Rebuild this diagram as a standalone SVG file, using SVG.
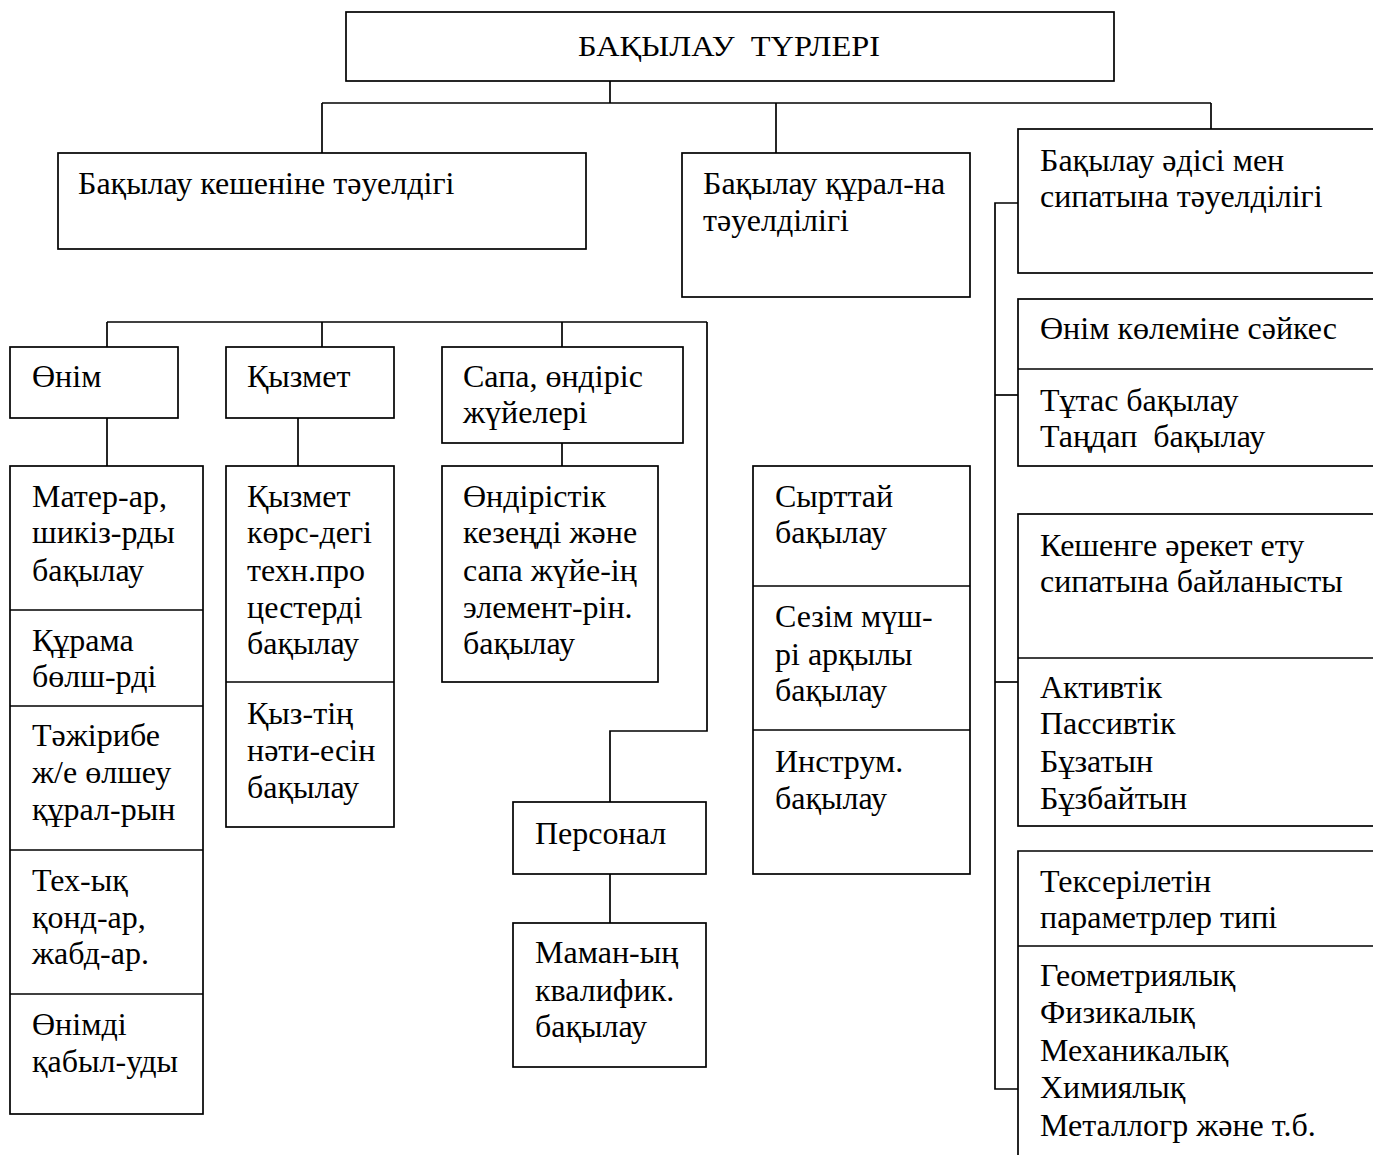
<svg xmlns="http://www.w3.org/2000/svg" width="1373" height="1155" viewBox="0 0 1373 1155">
<style>
rect{fill:#fff;stroke:#000;stroke-width:1.7}
.c line,.c polyline{stroke:#000;stroke-width:1.7;fill:none}
.d{stroke:#000;stroke-width:1.7;fill:none}
text{font-family:"Liberation Serif","DejaVu Serif",serif;font-size:32px;fill:#000;white-space:pre}
.t{font-size:30px}
</style>
<rect x="0" y="0" width="1373" height="1155" style="fill:#fff;stroke:none"/>
<g class="c" id="connectors">
<line x1="610" y1="81" x2="610" y2="103"/>
<line x1="322" y1="103" x2="1211" y2="103"/>
<line x1="322" y1="103" x2="322" y2="153"/>
<line x1="776" y1="103" x2="776" y2="153"/>
<line x1="1211" y1="103" x2="1211" y2="129"/>
<line x1="107" y1="322" x2="707" y2="322"/>
<line x1="107" y1="322" x2="107" y2="347"/>
<line x1="322" y1="322" x2="322" y2="347"/>
<line x1="562" y1="322" x2="562" y2="347"/>
<polyline points="707,322 707,731 610,731 610,802"/>
<line x1="107" y1="418" x2="107" y2="466"/>
<line x1="298" y1="418" x2="298" y2="466"/>
<line x1="562" y1="443" x2="562" y2="466"/>
<line x1="610" y1="874" x2="610" y2="923"/>
<polyline points="1018,203 995,203 995,1089 1018,1089"/>
<line x1="995" y1="395" x2="1018" y2="395"/>
<line x1="995" y1="682" x2="1018" y2="682"/>
</g>
<g id="n-title"><rect x="346" y="12" width="768" height="69"/><text class="t" x="578" y="56" textLength="302" lengthAdjust="spacingAndGlyphs">БАҚЫЛАУ  ТҮРЛЕРІ</text></g>
<g id="n-kesh"><rect x="58" y="153" width="528" height="96"/><text x="78" y="194">Бақылау кешеніне тәуелдігі</text></g>
<g id="n-qural"><rect x="682" y="153" width="288" height="144"/><text x="703" y="194">Бақылау құрал-на</text><text x="703" y="231">тәуелділігі</text></g>
<g id="n-adis"><rect x="1018" y="129" width="370" height="144"/><text x="1040" y="171">Бақылау әдісі мен</text><text x="1040" y="207">сипатына тәуелділігі</text></g>
<g id="n-kolem"><rect x="1018" y="299" width="370" height="167"/><line class="d" x1="1018" y1="369" x2="1388" y2="369"/><text x="1040" y="339">Өнім көлеміне сәйкес</text><text x="1040" y="411">Тұтас бақылау</text><text x="1040" y="447">Таңдап  бақылау</text></g>
<g id="n-areket"><rect x="1018" y="514" width="370" height="312"/><line class="d" x1="1018" y1="658" x2="1388" y2="658"/><text x="1040" y="556">Кешенге әрекет ету</text><text x="1040" y="592">сипатына байланысты</text><text x="1040" y="698">Активтік</text><text x="1040" y="734">Пассивтік</text><text x="1040" y="772">Бұзатын</text><text x="1040" y="809">Бұзбайтын</text></g>
<g id="n-param"><path class="d" d="M1018,1160 V851 H1388 M1018,946 H1388"/><text x="1040" y="892">Тексерілетін</text><text x="1040" y="928">параметрлер типі</text><text x="1040" y="986">Геометриялық</text><text x="1040" y="1023">Физикалық</text><text x="1040" y="1061">Механикалық</text><text x="1040" y="1098">Химиялық</text><text x="1040" y="1136">Металлогр және т.б.</text></g>
<g id="n-onim"><rect x="10" y="347" width="168" height="71"/><text x="32" y="387">Өнім</text></g>
<g id="n-qyzmet"><rect x="226" y="347" width="168" height="71"/><text x="247" y="387">Қызмет</text></g>
<g id="n-sapa"><rect x="442" y="347" width="241" height="96"/><text x="463" y="387">Сапа, өндіріс</text><text x="463" y="423">жүйелері</text></g>
<g id="n-onim-list"><rect x="10" y="466" width="193" height="648"/><line class="d" x1="10" y1="610" x2="203" y2="610"/><line class="d" x1="10" y1="706" x2="203" y2="706"/><line class="d" x1="10" y1="850" x2="203" y2="850"/><line class="d" x1="10" y1="994" x2="203" y2="994"/>
<text x="32" y="507">Матер-ар,</text><text x="32" y="543">шикіз-рды</text><text x="32" y="581">бақылау</text>
<text x="32" y="651">Құрама</text><text x="32" y="687">бөлш-рді</text>
<text x="32" y="746">Тәжірибе</text><text x="32" y="783">ж/е өлшеу</text><text x="32" y="820">құрал-рын</text>
<text x="32" y="891">Тех-ық</text><text x="32" y="928">қонд-ар,</text><text x="32" y="964">жабд-ар.</text>
<text x="32" y="1035">Өнімді</text><text x="32" y="1072">қабыл-уды</text></g>
<g id="n-qyzmet-list"><rect x="226" y="466" width="168" height="361"/><line class="d" x1="226" y1="682" x2="394" y2="682"/>
<text x="247" y="507">Қызмет</text><text x="247" y="543">көрс-дегі</text><text x="247" y="581">техн.про</text><text x="247" y="618">цестерді</text><text x="247" y="654">бақылау</text>
<text x="247" y="724">Қыз-тің</text><text x="247" y="761">нәти-есін</text><text x="247" y="798">бақылау</text></g>
<g id="n-ondiris"><rect x="442" y="466" width="216" height="216"/><text x="463" y="507">Өндірістік</text><text x="463" y="543">кезеңді және</text><text x="463" y="581">сапа жүйе-ің</text><text x="463" y="618">элемент-рін.</text><text x="463" y="654">бақылау</text></g>
<g id="n-syrttai"><rect x="753" y="466" width="217" height="408"/><line class="d" x1="753" y1="586" x2="970" y2="586"/><line class="d" x1="753" y1="730" x2="970" y2="730"/>
<text x="775" y="507">Сырттай</text><text x="775" y="543">бақылау</text>
<text x="775" y="627">Сезім мүш-</text><text x="775" y="665">рі арқылы</text><text x="775" y="701">бақылау</text>
<text x="775" y="772">Инструм.</text><text x="775" y="809">бақылау</text></g>
<g id="n-personal"><rect x="513" y="802" width="193" height="72"/><text x="535" y="844">Персонал</text></g>
<g id="n-maman"><rect x="513" y="923" width="193" height="144"/><text x="535" y="963">Маман-ың</text><text x="535" y="1001">квалифик.</text><text x="535" y="1037">бақылау</text></g>
</svg>
